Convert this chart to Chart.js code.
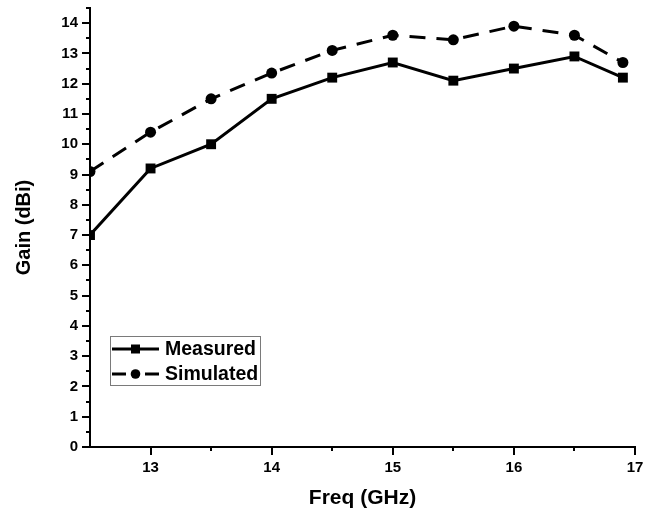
<!DOCTYPE html>
<html>
<head>
<meta charset="utf-8">
<script src="https://cdn.jsdelivr.net/npm/chart.js@4"></script>
<style>
  html, body { margin: 0; padding: 0; background: #ffffff; }
  #wrap { width: 662px; height: 514px; }
</style>
</head>
<body>
<div id="wrap"><canvas id="gainChart" width="662" height="514"></canvas></div>
<script>
// Antenna gain versus frequency
const freqGHz       = [12.5, 13, 13.5, 14, 14.5, 15, 15.5, 16, 16.5, 16.9];
const measuredGain  = [7.0, 9.2, 10.0, 11.5, 12.2, 12.7, 12.1, 12.5, 12.9, 12.2];
const simulatedGain = [9.1, 10.4, 11.5, 12.35, 13.1, 13.6, 13.45, 13.9, 13.6, 12.7];
const seriesNames   = ['Measured', 'Simulated'];
const xTickValues   = [13, 14, 15, 16, 17];
const yTickValues   = [0, 1, 2, 3, 4, 5, 6, 7, 8, 9, 10, 11, 12, 13, 14];
const xMinorValues  = [13.5, 14.5, 15.5, 16.5];
const yMinorValues  = [0.5, 1.5, 2.5, 3.5, 4.5, 5.5, 6.5, 7.5, 8.5, 9.5, 10.5, 11.5, 12.5, 13.5, 14.5];
const xTitle = 'Freq (GHz)';
const yTitle = 'Gain (dBi)';

const FONT = '"Liberation Sans", Arial, sans-serif';

const toPoints = (xs, ys) => xs.map((v, i) => ({ x: v, y: ys[i] }));

// Outward major/minor tick marks on the left and bottom axes
const axisTicks = {
  id: 'axisTicks',
  afterDraw(chart) {
    const { ctx, chartArea, scales } = chart;
    const xs = scales.x, ys = scales.y;
    ctx.save();
    ctx.strokeStyle = '#000';
    ctx.lineWidth = 2;
    ctx.lineCap = 'butt';
    const xTick = (v, len) => {
      const px = Math.round(xs.getPixelForValue(v));
      ctx.beginPath();
      ctx.moveTo(px, chartArea.bottom);
      ctx.lineTo(px, chartArea.bottom + len);
      ctx.stroke();
    };
    const yTick = (v, len) => {
      const py = Math.round(ys.getPixelForValue(v));
      ctx.beginPath();
      ctx.moveTo(chartArea.left, py);
      ctx.lineTo(chartArea.left - len, py);
      ctx.stroke();
    };
    xTickValues.forEach(v => xTick(v, 8));
    xMinorValues.forEach(v => xTick(v, 4));
    yTickValues.forEach(v => yTick(v, 8));
    yMinorValues.forEach(v => yTick(v, 4));
    ctx.restore();
  }
};

// Boxed legend placed inside the plot area, lower left
const insetLegend = {
  id: 'insetLegend',
  afterDraw(chart) {
    const { ctx } = chart;
    const box = { x: 110, y: 336, w: 151, h: 50 };
    ctx.save();
    ctx.fillStyle = '#ffffff';
    ctx.fillRect(box.x, box.y, box.w, box.h);
    ctx.strokeStyle = '#7a7a7a';
    ctx.lineWidth = 1;
    ctx.strokeRect(box.x + 0.5, box.y + 0.5, box.w - 1, box.h - 1);
    chart.data.datasets.forEach((ds, i) => {
      const cy = box.y + 13 + i * 25;
      const x0 = box.x + 2, x1 = box.x + 49, mx = (x0 + x1) / 2;
      ctx.strokeStyle = ds.borderColor;
      ctx.lineWidth = ds.borderWidth;
      if (ds.borderDash && ds.borderDash.length) {
        ctx.beginPath();
        ctx.moveTo(x0, cy); ctx.lineTo(x0 + 14, cy);
        ctx.moveTo(x1 - 14, cy); ctx.lineTo(x1, cy);
        ctx.stroke();
      } else {
        ctx.beginPath();
        ctx.moveTo(x0, cy); ctx.lineTo(x1, cy);
        ctx.stroke();
      }
      ctx.fillStyle = ds.pointBackgroundColor;
      if (ds.pointStyle === 'rect') {
        ctx.fillRect(mx - 4.5, cy - 4.5, 9, 9);
      } else {
        ctx.beginPath();
        ctx.arc(mx, cy, 4.8, 0, Math.PI * 2);
        ctx.fill();
      }
      ctx.fillStyle = '#000';
      ctx.font = 'bold 19.5px ' + FONT;
      ctx.textBaseline = 'middle';
      ctx.textAlign = 'left';
      ctx.fillText(ds.label, box.x + 55, cy + 1);
    });
    ctx.restore();
  }
};

new Chart(document.getElementById('gainChart'), {
  type: 'line',
  data: {
    datasets: [
      {
        label: seriesNames[0],
        data: toPoints(freqGHz, measuredGain),
        borderColor: '#000',
        borderWidth: 3,
        pointStyle: 'rect',
        pointRadius: 7,
        pointBackgroundColor: '#000',
        pointBorderColor: '#000',
        pointBorderWidth: 0,
        tension: 0
      },
      {
        label: seriesNames[1],
        data: toPoints(freqGHz, simulatedGain),
        borderColor: '#000',
        borderWidth: 3,
        borderDash: [16, 11],
        pointStyle: 'circle',
        pointRadius: 5.5,
        pointBackgroundColor: '#000',
        pointBorderColor: '#000',
        pointBorderWidth: 0,
        tension: 0
      }
    ]
  },
  options: {
    responsive: false,
    animation: false,
    devicePixelRatio: 1,
    layout: { padding: { left: 0, top: 8, right: 27, bottom: 0 } },
    plugins: { legend: { display: false }, tooltip: { enabled: false } },
    scales: {
      x: {
        type: 'linear',
        min: 12.5,
        max: 17,
        grid: { display: false, drawTicks: false },
        border: { display: true, color: '#000', width: 2 },
        afterBuildTicks: s => { s.ticks = xTickValues.map(v => ({ value: v })); },
        afterFit: s => { s.height = 67; s.paddingLeft = 0; s.paddingRight = 0; },
        ticks: {
          color: '#000',
          padding: 12,
          maxRotation: 0,
          font: { family: FONT, size: 15, weight: 'bold' }
        },
        title: {
          display: true,
          text: xTitle,
          color: '#000',
          padding: { top: 0, bottom: 3 },
          font: { family: FONT, size: 21, weight: 'bold' }
        }
      },
      y: {
        type: 'linear',
        min: 0,
        max: 14.5,
        grid: { display: false, drawTicks: false },
        border: { display: true, color: '#000', width: 2 },
        afterBuildTicks: s => { s.ticks = yTickValues.map(v => ({ value: v })); },
        afterFit: s => { s.width = 90; s.paddingTop = 0; s.paddingBottom = 0; },
        ticks: {
          color: '#000',
          padding: 12,
          font: { family: FONT, size: 15, weight: 'bold' }
        },
        title: {
          display: true,
          text: yTitle,
          color: '#000',
          padding: { top: 12, bottom: 0 },
          font: { family: FONT, size: 20, weight: 'bold' }
        }
      }
    }
  },
  plugins: [axisTicks, insetLegend]
});
</script>
</body>
</html>
